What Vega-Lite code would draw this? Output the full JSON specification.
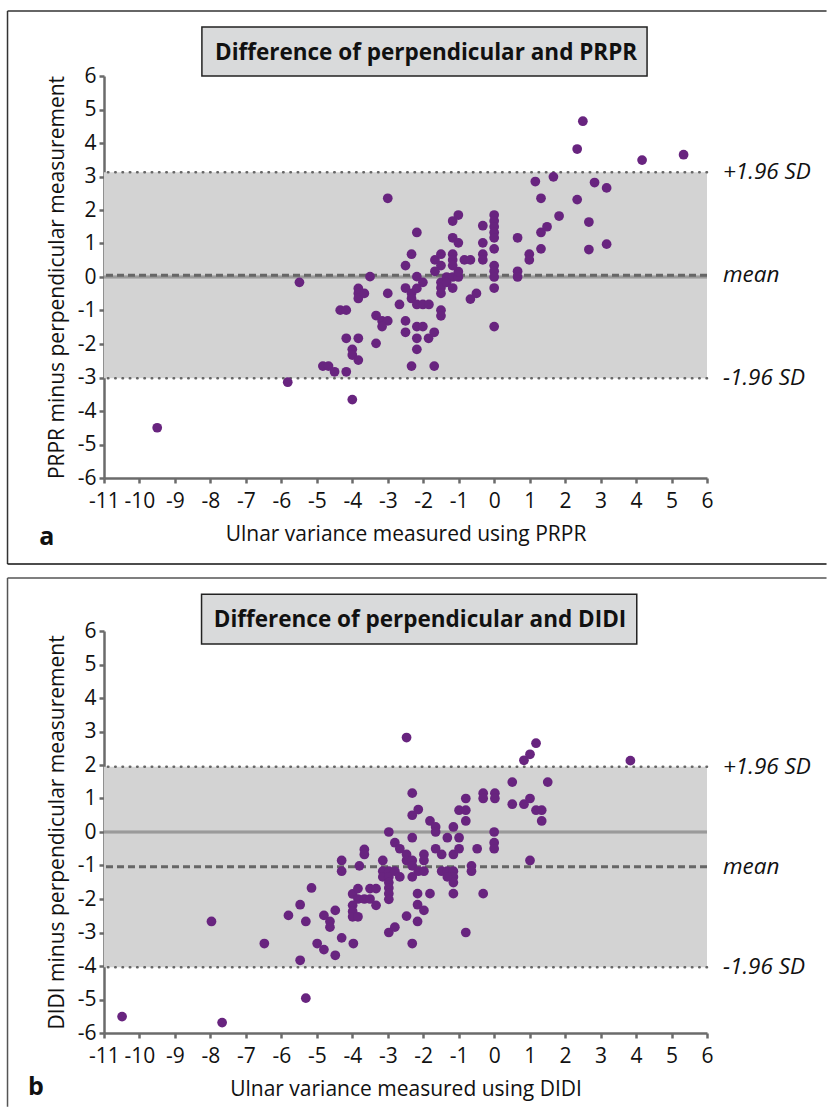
{
  "$schema": "https://vega.github.io/schema/vega-lite/v6.json",
  "background": "white",
  "padding": {"left": 6, "top": 10, "right": 0, "bottom": 0},
  "spacing": 12,
  "config": {
    "view": {"stroke": null},
    "font": "Open Sans",
    "axis": {
      "domainColor": "#6b6b6b", "domainWidth": 2.5,
      "tickColor": "#6b6b6b", "tickWidth": 2.5, "tickSize": 5,
      "grid": false, "labelOverlap": false,
      "labelFont": "Open Sans", "labelFontSize": 21, "labelColor": "#111",
      "titleFont": "Open Sans", "titleFontSize": 21, "titleFontWeight": "normal", "titleColor": "#111"
    },
    "axisX": {"labelFlush": false, "labelBound": false, "labelPadding": 7, "titlePadding": 12},
    "axisY": {"labelPadding": 3, "titlePadding": 10}
  },
  "datasets": {
    "pa": [
      {"x":-9.5,"y":-4.5},{"x":-5.82,"y":-3.14},{"x":-5.49,"y":-0.16},{"x":-4.83,"y":-2.66},{"x":-4.67,"y":-2.66},{"x":-4.5,"y":-2.83},{"x":-4.34,"y":-0.99},{"x":-4.17,"y":-0.99},{"x":-4.17,"y":-1.83},{"x":-4.17,"y":-2.83},{"x":-4.0,"y":-2.16},{"x":-4.0,"y":-2.33},{"x":-4.0,"y":-3.66},{"x":-3.83,"y":-1.83},{"x":-3.83,"y":-2.48},{"x":-3.83,"y":-0.34},{"x":-3.83,"y":-0.49},{"x":-3.83,"y":-0.64},{"x":-3.66,"y":-0.49},{"x":-3.5,"y":0.01},{"x":-3.33,"y":-1.15},{"x":-3.16,"y":-1.31},{"x":-3.0,"y":-1.31},{"x":-3.16,"y":-1.48},{"x":-3.33,"y":-1.98},{"x":-3.0,"y":-0.49},{"x":-3.0,"y":2.35},{"x":-2.67,"y":-0.82},{"x":-2.5,"y":0.34},{"x":-2.5,"y":-0.33},{"x":-2.5,"y":-1.31},{"x":-2.5,"y":-1.65},{"x":-2.33,"y":0.68},{"x":-2.33,"y":-0.49},{"x":-2.33,"y":-0.64},{"x":-2.33,"y":-2.66},{"x":-2.18,"y":1.33},{"x":-2.18,"y":0.01},{"x":-2.01,"y":-0.16},{"x":-2.18,"y":-0.34},{"x":-2.18,"y":-0.82},{"x":-2.01,"y":-0.82},{"x":-1.84,"y":-0.82},{"x":-2.18,"y":-1.48},{"x":-2.01,"y":-1.48},{"x":-2.18,"y":-1.83},{"x":-2.18,"y":-2.16},{"x":-1.85,"y":-1.83},{"x":-1.69,"y":-1.65},{"x":-1.69,"y":-2.66},{"x":-1.67,"y":0.51},{"x":-1.5,"y":0.68},{"x":-1.5,"y":0.34},{"x":-1.67,"y":0.17},{"x":-1.5,"y":-0.16},{"x":-1.5,"y":-0.32},{"x":-1.5,"y":-0.49},{"x":-1.34,"y":0.0},{"x":-1.17,"y":0.0},{"x":-1.01,"y":0.0},{"x":-1.01,"y":0.16},{"x":-1.34,"y":-0.16},{"x":-1.17,"y":-0.33},{"x":-1.5,"y":-0.99},{"x":-1.5,"y":-1.16},{"x":-1.17,"y":1.67},{"x":-1.01,"y":1.85},{"x":-1.17,"y":1.17},{"x":-1.01,"y":1.02},{"x":-1.17,"y":0.68},{"x":-1.17,"y":0.51},{"x":-1.17,"y":0.34},{"x":-0.84,"y":0.51},{"x":-0.67,"y":0.51},{"x":-0.67,"y":-0.66},{"x":-0.5,"y":-0.49},{"x":-0.32,"y":1.53},{"x":-0.32,"y":1.02},{"x":-0.32,"y":0.68},{"x":-0.32,"y":0.51},{"x":0,"y":1.85},{"x":0,"y":1.67},{"x":0,"y":1.5},{"x":0,"y":1.33},{"x":0,"y":1.17},{"x":0,"y":0.84},{"x":0,"y":0.34},{"x":0,"y":0.17},{"x":0,"y":0.0},{"x":0,"y":-0.33},{"x":0,"y":-1.48},{"x":0.66,"y":1.17},{"x":0.66,"y":0.17},{"x":0.66,"y":0.0},{"x":0.99,"y":0.68},{"x":0.99,"y":0.51},{"x":1.16,"y":2.85},{"x":1.32,"y":2.35},{"x":1.32,"y":1.33},{"x":1.49,"y":1.5},{"x":1.32,"y":0.84},{"x":1.67,"y":2.99},{"x":1.83,"y":1.82},{"x":2.34,"y":3.82},{"x":2.34,"y":2.31},{"x":2.5,"y":4.65},{"x":2.67,"y":1.64},{"x":2.67,"y":0.82},{"x":2.83,"y":2.82},{"x":3.17,"y":2.66},{"x":3.17,"y":0.98},{"x":4.17,"y":3.49},{"x":5.34,"y":3.65}
    ],
    "pb": [
      {"x":-10.49,"y":-5.51},{"x":-7.67,"y":-5.69},{"x":-7.97,"y":-2.67},{"x":-6.48,"y":-3.33},{"x":-5.47,"y":-3.83},{"x":-5.31,"y":-4.96},{"x":-5.8,"y":-2.49},{"x":-5.47,"y":-2.17},{"x":-5.31,"y":-2.67},{"x":-5.15,"y":-1.67},{"x":-4.99,"y":-3.33},{"x":-4.8,"y":-3.51},{"x":-4.8,"y":-2.49},{"x":-4.63,"y":-2.67},{"x":-4.63,"y":-2.84},{"x":-4.48,"y":-2.34},{"x":-4.48,"y":-3.68},{"x":-4.3,"y":-3.16},{"x":-4.3,"y":-0.85},{"x":-4.3,"y":-1.17},{"x":-3.97,"y":-3.33},{"x":-3.99,"y":-1.85},{"x":-3.84,"y":-1.69},{"x":-3.99,"y":-2.19},{"x":-3.84,"y":-2.0},{"x":-3.99,"y":-2.37},{"x":-3.99,"y":-2.53},{"x":-3.84,"y":-2.53},{"x":-3.66,"y":-2.0},{"x":-3.5,"y":-2.0},{"x":-3.5,"y":-1.69},{"x":-3.33,"y":-1.69},{"x":-3.33,"y":-2.19},{"x":-3.66,"y":-0.52},{"x":-3.66,"y":-0.67},{"x":-3.8,"y":-1.01},{"x":-3.14,"y":-0.85},{"x":-2.97,"y":0.0},{"x":-3.14,"y":-1.17},{"x":-3.14,"y":-1.34},{"x":-2.97,"y":-1.17},{"x":-2.97,"y":-1.34},{"x":-2.97,"y":-1.51},{"x":-2.97,"y":-1.67},{"x":-2.97,"y":-1.84},{"x":-2.97,"y":-2.01},{"x":-2.8,"y":-1.17},{"x":-2.66,"y":-1.34},{"x":-2.8,"y":-0.32},{"x":-2.66,"y":-0.5},{"x":-2.47,"y":-0.67},{"x":-2.47,"y":-0.85},{"x":-2.31,"y":-0.85},{"x":-2.31,"y":-1.01},{"x":-2.14,"y":-1.17},{"x":-2.31,"y":-1.34},{"x":-2.31,"y":-0.17},{"x":-2.31,"y":0.5},{"x":-2.14,"y":0.67},{"x":-2.31,"y":1.16},{"x":-2.47,"y":2.82},{"x":-1.98,"y":-0.67},{"x":-1.98,"y":-0.85},{"x":-1.98,"y":-1.17},{"x":-1.81,"y":0.33},{"x":-1.65,"y":0.15},{"x":-1.65,"y":0.0},{"x":-1.81,"y":-1.84},{"x":-2.16,"y":-1.84},{"x":-2.16,"y":-2.17},{"x":-1.98,"y":-2.34},{"x":-2.16,"y":-2.67},{"x":-2.47,"y":-2.51},{"x":-2.97,"y":-3.0},{"x":-2.8,"y":-2.84},{"x":-2.31,"y":-3.33},{"x":-1.65,"y":-0.5},{"x":-1.48,"y":-0.67},{"x":-1.15,"y":0.15},{"x":-1.32,"y":-0.17},{"x":-0.99,"y":-0.17},{"x":-1.15,"y":-0.67},{"x":-0.99,"y":-0.5},{"x":-1.48,"y":-1.17},{"x":-1.32,"y":-1.17},{"x":-1.15,"y":-1.17},{"x":-1.15,"y":-1.34},{"x":-1.15,"y":-1.51},{"x":-1.32,"y":-1.34},{"x":-1.15,"y":-1.84},{"x":-0.99,"y":0.65},{"x":-0.8,"y":0.65},{"x":-0.8,"y":1.0},{"x":-0.8,"y":0.33},{"x":-0.64,"y":-1.01},{"x":-0.64,"y":-1.17},{"x":-0.48,"y":-0.5},{"x":-0.31,"y":1.16},{"x":-0.31,"y":1.0},{"x":0.02,"y":1.16},{"x":0.02,"y":1.0},{"x":-0.31,"y":-1.84},{"x":0,"y":0},{"x":0,"y":-0.32},{"x":0,"y":-0.5},{"x":-0.8,"y":-3.0},{"x":0.51,"y":1.49},{"x":0.51,"y":0.83},{"x":0.84,"y":0.83},{"x":1.01,"y":1.0},{"x":1.01,"y":-0.85},{"x":0.84,"y":2.14},{"x":1.01,"y":2.32},{"x":1.18,"y":2.65},{"x":1.18,"y":0.65},{"x":1.34,"y":0.65},{"x":1.34,"y":0.33},{"x":1.51,"y":1.49},{"x":3.84,"y":2.13}
    ],
    "bandA": [{"lower": -3.02, "upper": 3.125}],
    "bandB": [{"lower": -4.04, "upper": 1.95}],
    "limA": [{"kind": "upper", "value": 3.125, "label": "+1.96 SD"}, {"kind": "mean", "value": 0.05, "label": "mean"}, {"kind": "lower", "value": -3.02, "label": "-1.96 SD"}],
    "limB": [{"kind": "upper", "value": 1.95, "label": "+1.96 SD"}, {"kind": "mean", "value": -1.04, "label": "mean"}, {"kind": "lower", "value": -4.04, "label": "-1.96 SD"}]
  },
  "vconcat": [
    {
      "width": 603, "height": 402,
      "layer": [
        {
          "data": {"name": "bandA"},
          "mark": {"type": "rect", "color": "#d3d3d3"},
          "encoding": {
            "x": {"datum": -11, "type": "quantitative", "scale": {"domain": [-11, 6], "nice": false, "zero": false},
                  "axis": {"title": "Ulnar variance measured using PRPR", "values": [-11,-10,-9,-8,-7,-6,-5,-4,-3,-2,-1,0,1,2,3,4,5,6], "labelOverlap": false, "labelExpr": "replace(datum.label, '\u2212', '-')"}},
            "x2": {"datum": 6},
            "y": {"field": "lower", "type": "quantitative", "scale": {"domain": [-6, 6], "nice": false, "zero": false},
                  "axis": {"title": "PRPR minus perpendicular measurement", "values": [-6,-5,-4,-3,-2,-1,0,1,2,3,4,5,6], "labelOverlap": false, "labelExpr": "replace(datum.label, '\u2212', '-')"}},
            "y2": {"field": "upper"}
          }
        },
        {
          "data": {"name": "limA"},
          "mark": {"type": "rule", "color": "#9a9a9a", "strokeWidth": 2.5},
          "encoding": {"y": {"datum": 0, "type": "quantitative", "axis": {"title": "PRPR minus perpendicular measurement", "values": [-6,-5,-4,-3,-2,-1,0,1,2,3,4,5,6], "labelOverlap": false, "labelExpr": "replace(datum.label, '\u2212', '-')"}}}
        },
        {
          "data": {"name": "limA"},
          "transform": [{"filter": "datum.kind !== 'mean'"}],
          "mark": {"type": "rule", "color": "#666", "strokeWidth": 2.5, "strokeDash": [0.5, 6.8], "strokeCap": "round"},
          "encoding": {"y": {"field": "value", "type": "quantitative", "axis": {"title": "PRPR minus perpendicular measurement", "values": [-6,-5,-4,-3,-2,-1,0,1,2,3,4,5,6], "labelOverlap": false, "labelExpr": "replace(datum.label, '\u2212', '-')"}}}
        },
        {
          "data": {"name": "limA"},
          "transform": [{"filter": "datum.kind === 'mean'"}],
          "mark": {"type": "rule", "color": "#666", "strokeWidth": 3, "strokeDash": [7, 4]},
          "encoding": {"y": {"field": "value", "type": "quantitative", "axis": {"title": "PRPR minus perpendicular measurement", "values": [-6,-5,-4,-3,-2,-1,0,1,2,3,4,5,6], "labelOverlap": false, "labelExpr": "replace(datum.label, '\u2212', '-')"}}}
        },
        {
          "data": {"name": "pa"},
          "mark": {"type": "circle", "color": "#68247f", "opacity": 1, "size": 95},
          "encoding": {
            "x": {"field": "x", "type": "quantitative", "axis": {"title": "Ulnar variance measured using PRPR", "values": [-11,-10,-9,-8,-7,-6,-5,-4,-3,-2,-1,0,1,2,3,4,5,6], "labelOverlap": false, "labelExpr": "replace(datum.label, '\u2212', '-')"}},
            "y": {"field": "y", "type": "quantitative", "axis": {"title": "PRPR minus perpendicular measurement", "values": [-6,-5,-4,-3,-2,-1,0,1,2,3,4,5,6], "labelOverlap": false, "labelExpr": "replace(datum.label, '\u2212', '-')"}}
          }
        },
        {
          "data": {"name": "limA"},
          "mark": {"type": "text", "align": "left", "baseline": "middle", "dx": 16, "fontSize": 22.5, "fontStyle": "italic", "color": "#111"},
          "encoding": {
            "x": {"datum": 6, "type": "quantitative", "axis": {"title": "Ulnar variance measured using PRPR", "values": [-11,-10,-9,-8,-7,-6,-5,-4,-3,-2,-1,0,1,2,3,4,5,6], "labelOverlap": false, "labelExpr": "replace(datum.label, '\u2212', '-')"}},
            "y": {"field": "value", "type": "quantitative", "axis": {"title": "PRPR minus perpendicular measurement", "values": [-6,-5,-4,-3,-2,-1,0,1,2,3,4,5,6], "labelOverlap": false, "labelExpr": "replace(datum.label, '\u2212', '-')"}},
            "text": {"field": "label"}
          }
        },
        {
          "data": {"values": [{}]},
          "mark": {"type": "rule", "color": "#333", "strokeWidth": 1.5},
          "encoding": {
            "x": {"datum": -13.72, "type": "quantitative", "axis": {"title": "Ulnar variance measured using PRPR", "values": [-11,-10,-9,-8,-7,-6,-5,-4,-3,-2,-1,0,1,2,3,4,5,6], "labelOverlap": false, "labelExpr": "replace(datum.label, '\u2212', '-')"}},
            "y": {"datum": 7.94, "type": "quantitative", "axis": {"title": "PRPR minus perpendicular measurement", "values": [-6,-5,-4,-3,-2,-1,0,1,2,3,4,5,6], "labelOverlap": false, "labelExpr": "replace(datum.label, '\u2212', '-')"}},
            "y2": {"datum": -8.57}
          }
        },
        {
          "data": {"values": [{}]},
          "mark": {"type": "rule", "color": "#333", "strokeWidth": 1.5},
          "encoding": {
            "x": {"datum": -13.72, "type": "quantitative", "axis": {"title": "Ulnar variance measured using PRPR", "values": [-11,-10,-9,-8,-7,-6,-5,-4,-3,-2,-1,0,1,2,3,4,5,6], "labelOverlap": false, "labelExpr": "replace(datum.label, '\u2212', '-')"}},
            "x2": {"datum": 9.37},
            "y": {"datum": 7.94, "type": "quantitative", "axis": {"title": "PRPR minus perpendicular measurement", "values": [-6,-5,-4,-3,-2,-1,0,1,2,3,4,5,6], "labelOverlap": false, "labelExpr": "replace(datum.label, '\u2212', '-')"}}
          }
        },
        {
          "data": {"values": [{}]},
          "mark": {"type": "rule", "color": "#111", "strokeWidth": 1.5},
          "encoding": {
            "x": {"datum": -13.72, "type": "quantitative", "axis": {"title": "Ulnar variance measured using PRPR", "values": [-11,-10,-9,-8,-7,-6,-5,-4,-3,-2,-1,0,1,2,3,4,5,6], "labelOverlap": false, "labelExpr": "replace(datum.label, '\u2212', '-')"}},
            "x2": {"datum": 9.37},
            "y": {"datum": -8.57, "type": "quantitative", "axis": {"title": "PRPR minus perpendicular measurement", "values": [-6,-5,-4,-3,-2,-1,0,1,2,3,4,5,6], "labelOverlap": false, "labelExpr": "replace(datum.label, '\u2212', '-')"}}
          }
        },
        {
          "data": {"values": [{}]},
          "mark": {"type": "rect", "fill": "#d9dadb", "stroke": "#222", "strokeWidth": 1.5},
          "encoding": {
            "x": {"datum": -8.24, "type": "quantitative", "axis": {"title": "Ulnar variance measured using PRPR", "values": [-11,-10,-9,-8,-7,-6,-5,-4,-3,-2,-1,0,1,2,3,4,5,6], "labelOverlap": false, "labelExpr": "replace(datum.label, '\u2212', '-')"}},
            "x2": {"datum": 4.31},
            "y": {"datum": 7.46, "type": "quantitative", "axis": {"title": "PRPR minus perpendicular measurement", "values": [-6,-5,-4,-3,-2,-1,0,1,2,3,4,5,6], "labelOverlap": false, "labelExpr": "replace(datum.label, '\u2212', '-')"}},
            "y2": {"datum": 6.0}
          }
        },
        {
          "data": {"values": [{"t": "Difference of perpendicular and PRPR"}]},
          "mark": {"type": "text", "fontSize": 22.5, "fontWeight": "bold", "color": "#111", "align": "center", "baseline": "middle"},
          "encoding": {
            "x": {"datum": -1.92, "type": "quantitative", "axis": {"title": "Ulnar variance measured using PRPR", "values": [-11,-10,-9,-8,-7,-6,-5,-4,-3,-2,-1,0,1,2,3,4,5,6], "labelOverlap": false, "labelExpr": "replace(datum.label, '\u2212', '-')"}},
            "y": {"datum": 6.7, "type": "quantitative", "axis": {"title": "PRPR minus perpendicular measurement", "values": [-6,-5,-4,-3,-2,-1,0,1,2,3,4,5,6], "labelOverlap": false, "labelExpr": "replace(datum.label, '\u2212', '-')"}},
            "text": {"field": "t"}
          }
        },
        {
          "data": {"values": [{"t": "a"}]},
          "mark": {"type": "text", "fontSize": 25, "fontWeight": "bold", "color": "#111", "align": "center", "baseline": "middle"},
          "encoding": {
            "x": {"datum": -12.61, "type": "quantitative", "axis": {"title": "Ulnar variance measured using PRPR", "values": [-11,-10,-9,-8,-7,-6,-5,-4,-3,-2,-1,0,1,2,3,4,5,6], "labelOverlap": false, "labelExpr": "replace(datum.label, '\u2212', '-')"}},
            "y": {"datum": -7.76, "type": "quantitative", "axis": {"title": "PRPR minus perpendicular measurement", "values": [-6,-5,-4,-3,-2,-1,0,1,2,3,4,5,6], "labelOverlap": false, "labelExpr": "replace(datum.label, '\u2212', '-')"}},
            "text": {"field": "t"}
          }
        }
      ]
    },
    {
      "width": 603, "height": 402,
      "layer": [
        {
          "data": {"name": "bandB"},
          "mark": {"type": "rect", "color": "#d3d3d3"},
          "encoding": {
            "x": {"datum": -11, "type": "quantitative", "scale": {"domain": [-11, 6], "nice": false, "zero": false},
                  "axis": {"title": "Ulnar variance measured using DIDI", "values": [-11,-10,-9,-8,-7,-6,-5,-4,-3,-2,-1,0,1,2,3,4,5,6], "labelOverlap": false, "labelExpr": "replace(datum.label, '\u2212', '-')"}},
            "x2": {"datum": 6},
            "y": {"field": "lower", "type": "quantitative", "scale": {"domain": [-6, 6], "nice": false, "zero": false},
                  "axis": {"title": "DIDI minus perpendicular measurement", "values": [-6,-5,-4,-3,-2,-1,0,1,2,3,4,5,6], "labelOverlap": false, "labelExpr": "replace(datum.label, '\u2212', '-')"}},
            "y2": {"field": "upper"}
          }
        },
        {
          "data": {"name": "limB"},
          "mark": {"type": "rule", "color": "#9a9a9a", "strokeWidth": 2.5},
          "encoding": {"y": {"datum": 0, "type": "quantitative", "axis": {"title": "DIDI minus perpendicular measurement", "values": [-6,-5,-4,-3,-2,-1,0,1,2,3,4,5,6], "labelOverlap": false, "labelExpr": "replace(datum.label, '\u2212', '-')"}}}
        },
        {
          "data": {"name": "limB"},
          "transform": [{"filter": "datum.kind !== 'mean'"}],
          "mark": {"type": "rule", "color": "#666", "strokeWidth": 2.5, "strokeDash": [0.5, 6.8], "strokeCap": "round"},
          "encoding": {"y": {"field": "value", "type": "quantitative", "axis": {"title": "DIDI minus perpendicular measurement", "values": [-6,-5,-4,-3,-2,-1,0,1,2,3,4,5,6], "labelOverlap": false, "labelExpr": "replace(datum.label, '\u2212', '-')"}}}
        },
        {
          "data": {"name": "limB"},
          "transform": [{"filter": "datum.kind === 'mean'"}],
          "mark": {"type": "rule", "color": "#666", "strokeWidth": 3, "strokeDash": [7, 4]},
          "encoding": {"y": {"field": "value", "type": "quantitative", "axis": {"title": "DIDI minus perpendicular measurement", "values": [-6,-5,-4,-3,-2,-1,0,1,2,3,4,5,6], "labelOverlap": false, "labelExpr": "replace(datum.label, '\u2212', '-')"}}}
        },
        {
          "data": {"name": "pb"},
          "mark": {"type": "circle", "color": "#68247f", "opacity": 1, "size": 95},
          "encoding": {
            "x": {"field": "x", "type": "quantitative", "axis": {"title": "Ulnar variance measured using DIDI", "values": [-11,-10,-9,-8,-7,-6,-5,-4,-3,-2,-1,0,1,2,3,4,5,6], "labelOverlap": false, "labelExpr": "replace(datum.label, '\u2212', '-')"}},
            "y": {"field": "y", "type": "quantitative", "axis": {"title": "DIDI minus perpendicular measurement", "values": [-6,-5,-4,-3,-2,-1,0,1,2,3,4,5,6], "labelOverlap": false, "labelExpr": "replace(datum.label, '\u2212', '-')"}}
          }
        },
        {
          "data": {"name": "limB"},
          "mark": {"type": "text", "align": "left", "baseline": "middle", "dx": 16, "fontSize": 22.5, "fontStyle": "italic", "color": "#111"},
          "encoding": {
            "x": {"datum": 6, "type": "quantitative", "axis": {"title": "Ulnar variance measured using DIDI", "values": [-11,-10,-9,-8,-7,-6,-5,-4,-3,-2,-1,0,1,2,3,4,5,6], "labelOverlap": false, "labelExpr": "replace(datum.label, '\u2212', '-')"}},
            "y": {"field": "value", "type": "quantitative", "axis": {"title": "DIDI minus perpendicular measurement", "values": [-6,-5,-4,-3,-2,-1,0,1,2,3,4,5,6], "labelOverlap": false, "labelExpr": "replace(datum.label, '\u2212', '-')"}},
            "text": {"field": "label"}
          }
        },
        {
          "data": {"values": [{}]},
          "mark": {"type": "rule", "color": "#555", "strokeWidth": 1.5},
          "encoding": {
            "x": {"datum": -13.72, "type": "quantitative", "axis": {"title": "Ulnar variance measured using DIDI", "values": [-11,-10,-9,-8,-7,-6,-5,-4,-3,-2,-1,0,1,2,3,4,5,6], "labelOverlap": false, "labelExpr": "replace(datum.label, '\u2212', '-')"}},
            "y": {"datum": 7.58, "type": "quantitative", "axis": {"title": "DIDI minus perpendicular measurement", "values": [-6,-5,-4,-3,-2,-1,0,1,2,3,4,5,6], "labelOverlap": false, "labelExpr": "replace(datum.label, '\u2212', '-')"}},
            "y2": {"datum": -8.2}
          }
        },
        {
          "data": {"values": [{}]},
          "mark": {"type": "rule", "color": "#555", "strokeWidth": 1.5},
          "encoding": {
            "x": {"datum": -13.72, "type": "quantitative", "axis": {"title": "Ulnar variance measured using DIDI", "values": [-11,-10,-9,-8,-7,-6,-5,-4,-3,-2,-1,0,1,2,3,4,5,6], "labelOverlap": false, "labelExpr": "replace(datum.label, '\u2212', '-')"}},
            "x2": {"datum": 9.37},
            "y": {"datum": 7.58, "type": "quantitative", "axis": {"title": "DIDI minus perpendicular measurement", "values": [-6,-5,-4,-3,-2,-1,0,1,2,3,4,5,6], "labelOverlap": false, "labelExpr": "replace(datum.label, '\u2212', '-')"}}
          }
        },
        {
          "data": {"values": [{}]},
          "mark": {"type": "rect", "fill": "#d9dadb", "stroke": "#222", "strokeWidth": 1.5},
          "encoding": {
            "x": {"datum": -8.25, "type": "quantitative", "axis": {"title": "Ulnar variance measured using DIDI", "values": [-11,-10,-9,-8,-7,-6,-5,-4,-3,-2,-1,0,1,2,3,4,5,6], "labelOverlap": false, "labelExpr": "replace(datum.label, '\u2212', '-')"}},
            "x2": {"datum": 4.02},
            "y": {"datum": 7.1, "type": "quantitative", "axis": {"title": "DIDI minus perpendicular measurement", "values": [-6,-5,-4,-3,-2,-1,0,1,2,3,4,5,6], "labelOverlap": false, "labelExpr": "replace(datum.label, '\u2212', '-')"}},
            "y2": {"datum": 5.61}
          }
        },
        {
          "data": {"values": [{"t": "Difference of perpendicular and DIDI"}]},
          "mark": {"type": "text", "fontSize": 22.5, "fontWeight": "bold", "color": "#111", "align": "center", "baseline": "middle"},
          "encoding": {
            "x": {"datum": -2.09, "type": "quantitative", "axis": {"title": "Ulnar variance measured using DIDI", "values": [-11,-10,-9,-8,-7,-6,-5,-4,-3,-2,-1,0,1,2,3,4,5,6], "labelOverlap": false, "labelExpr": "replace(datum.label, '\u2212', '-')"}},
            "y": {"datum": 6.33, "type": "quantitative", "axis": {"title": "DIDI minus perpendicular measurement", "values": [-6,-5,-4,-3,-2,-1,0,1,2,3,4,5,6], "labelOverlap": false, "labelExpr": "replace(datum.label, '\u2212', '-')"}},
            "text": {"field": "t"}
          }
        },
        {
          "data": {"values": [{"t": "b"}]},
          "mark": {"type": "text", "fontSize": 25, "fontWeight": "bold", "color": "#111", "align": "center", "baseline": "middle"},
          "encoding": {
            "x": {"datum": -12.92, "type": "quantitative", "axis": {"title": "Ulnar variance measured using DIDI", "values": [-11,-10,-9,-8,-7,-6,-5,-4,-3,-2,-1,0,1,2,3,4,5,6], "labelOverlap": false, "labelExpr": "replace(datum.label, '\u2212', '-')"}},
            "y": {"datum": -7.61, "type": "quantitative", "axis": {"title": "DIDI minus perpendicular measurement", "values": [-6,-5,-4,-3,-2,-1,0,1,2,3,4,5,6], "labelOverlap": false, "labelExpr": "replace(datum.label, '\u2212', '-')"}},
            "text": {"field": "t"}
          }
        }
      ]
    }
  ]
}
